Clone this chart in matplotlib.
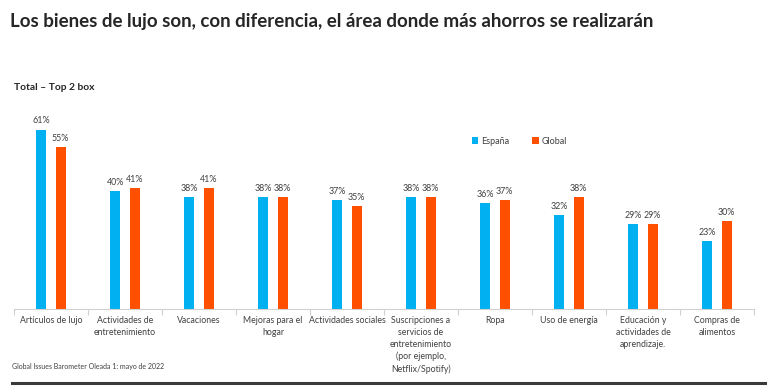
import matplotlib.pyplot as plt
import numpy as np

categories = ["Artículos de lujo", "Actividades de\nentretenimiento", "Vacaciones",
              "Mejoras para el\nhogar", "Actividades sociales",
              "Suscripciones a\nservicios de\nentretenimiento\n(por ejemplo,\nNetflix/Spotify)",
              "Ropa", "Uso de energía", "Educación y\nactividades de\naprendizaje.",
              "Compras de\nalimentos"]
espana = [61, 40, 38, 38, 37, 38, 36, 32, 29, 23]
global_ = [55, 41, 41, 38, 35, 38, 37, 38, 29, 30]
series_names = ["España", "Global"]

blue = "#00B0F0"
orange = "#FF5000"
grey = "#404040"

plt.rcParams['font.family'] = ['Lato', 'DejaVu Sans']

W, H = 776, 389
fig = plt.figure(figsize=(W/100, H/100), dpi=100)

ax_l, ax_r, ax_b = 14, 754, 309
ymax = 70
pxper = 2.94
ax_t = ax_b - ymax*pxper
ax = fig.add_axes([ax_l/W, 1-ax_b/H, (ax_r-ax_l)/W, (ax_b-ax_t)/H])

x = np.arange(len(categories))
bw = 0.135
off = 0.13
b1 = ax.bar(x-off, espana, bw, color=blue, label=series_names[0])
b2 = ax.bar(x+off, global_, bw, color=orange, label=series_names[1])
for bars, vals in ((b1, espana), (b2, global_)):
    for r, v in zip(bars, vals):
        ax.annotate(f"{v}%", (r.get_x()+r.get_width()/2, v), xytext=(0, 3),
                    textcoords="offset points", ha="center", va="bottom",
                    fontsize=6.4, color=grey)

ax.set_xlim(-0.5, len(categories)-0.5)
ax.set_ylim(0, ymax)
ax.set_yticks([])
for s in ["top", "right", "left"]:
    ax.spines[s].set_visible(False)
ax.spines["bottom"].set_color("#D0D0D0")
ax.spines["bottom"].set_linewidth(0.8)
ax.set_xticks(x)
ax.set_xticklabels(categories, fontsize=6.3, color=grey, va="top", linespacing=1.4)
ax.tick_params(axis="x", length=0, pad=5)
ax.set_xticks(np.arange(len(categories)+1)-0.5, minor=True)
ax.tick_params(axis="x", which="minor", length=4, color="#D0D0D0", width=0.8)

leg = ax.legend(loc="upper left", bbox_to_anchor=((468-ax_l)/(ax_r-ax_l), (ax_b-133)/(ax_b-ax_t)),
                ncol=2, frameon=False, fontsize=6.5, handlelength=0.7, handleheight=0.7,
                handletextpad=0.3, columnspacing=2.6, borderaxespad=0)
for t in leg.get_texts():
    t.set_color(grey)

fig.text(10/W, 1-22/H, "Los bienes de lujo son, con diferencia, el área donde más ahorros se realizarán",
         fontsize=13.5, fontweight="bold", color="#262626", va="center", ha="left")
fig.text(14/W, 1-88/H, "Total – Top 2 box", fontsize=7.4, fontweight="bold", color="#262626",
         va="center", ha="left")
fig.text(12/W, 1-367/H, "Global Issues Barometer Oleada 1: mayo de 2022", fontsize=5.0,
         color=grey, va="center", ha="left")
fig.add_artist(plt.Line2D([12/W, 765/W], [1-383/H, 1-383/H], color="#3A3A3A", lw=2.2,
                          transform=fig.transFigure))

fig.savefig("out.png", dpi=100)
